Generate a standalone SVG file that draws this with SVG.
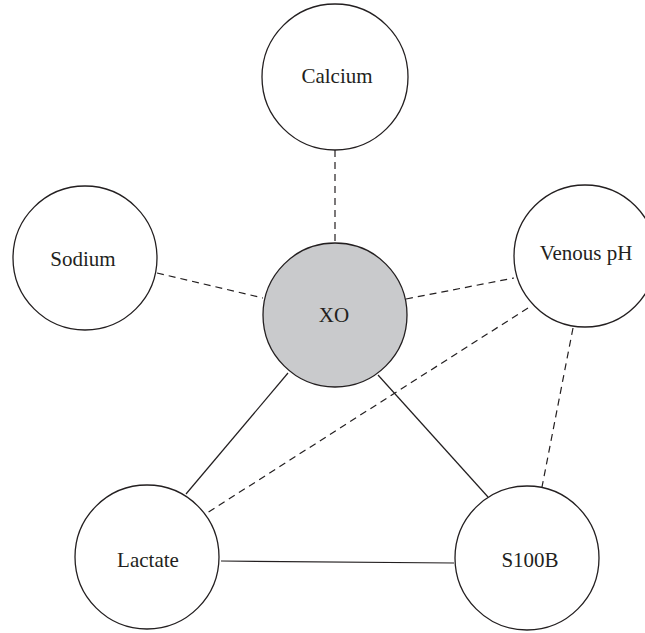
<svg xmlns="http://www.w3.org/2000/svg" width="645" height="633" viewBox="0 0 645 633">
<style>
.n{fill:#fff;stroke:#231f20;stroke-width:1.3}
.hub{fill:#c9cacc}
.t{font-family:"Liberation Serif","Times New Roman",serif;font-size:21px;fill:#231f20;text-anchor:middle}
.e{stroke:#231f20;stroke-width:1.2;fill:none}
.d{stroke-dasharray:7 5}
</style>
<rect width="645" height="633" fill="#fff"/>
<g id="connectors">
<line class="e d" x1="335" y1="150" x2="335" y2="243"/>
<line class="e d" x1="157" y1="273" x2="263" y2="298"/>
<line class="e d" x1="406" y1="299" x2="514" y2="278"/>
<line class="e d" x1="528" y1="308" x2="207" y2="513"/>
<line class="e d" x1="573" y1="328" x2="542" y2="487"/>
<line class="e" x1="288" y1="373" x2="186" y2="494"/>
<line class="e" x1="378" y1="375" x2="488" y2="497"/>
<line class="e" x1="221" y1="561" x2="454" y2="563"/>
</g>
<g id="calcium"><circle class="n" cx="335" cy="77" r="73"/><text class="t" x="337" y="83">Calcium</text></g>
<g id="sodium"><circle class="n" cx="85" cy="258" r="72"/><text class="t" x="83" y="266">Sodium</text></g>
<g id="xo"><circle class="n hub" cx="335" cy="315" r="72"/><text class="t" x="334" y="322">XO</text></g>
<g id="venous-ph"><circle class="n" cx="585" cy="256" r="71"/><text class="t" x="586" y="260">Venous pH</text></g>
<g id="lactate"><circle class="n" cx="147" cy="557" r="72"/><text class="t" x="148" y="567">Lactate</text></g>
<g id="s100b"><circle class="n" cx="527" cy="558" r="72"/><text class="t" x="530" y="567">S100B</text></g>
</svg>
